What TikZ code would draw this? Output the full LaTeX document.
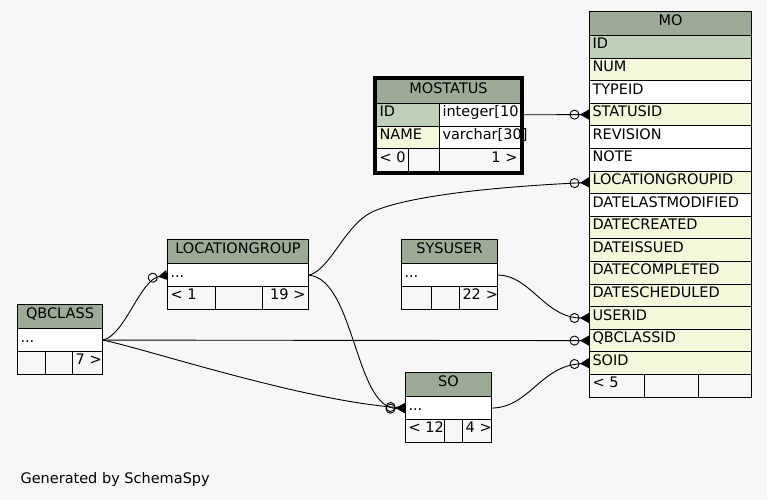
\documentclass[tikz,border=0pt]{standalone}
\usepackage{fontspec}
\setmainfont{DejaVu Sans}
\usetikzlibrary{arrows.meta,fit}

\definecolor{bgcol}{HTML}{F7F7F7}
\definecolor{hdrcol}{HTML}{9CAA96}
\definecolor{pkcol}{HTML}{BED1B8}
\definecolor{fkcol}{HTML}{F4F7DA}

\begin{document}
\begin{tikzpicture}[x=1pt,y=-1pt,font=\fontsize{14.5pt}{16pt}\selectfont,
    cell/.style={draw,line width=1pt,anchor=north west,inner xsep=3pt,inner ysep=0pt,
      text height=10pt,text depth=5.8pt,minimum height=22.6pt,align=left,fill=white},
    hdr/.style={cell,fill=hdrcol,align=center,minimum height=24pt},
    pk/.style={cell,fill=pkcol},
    fk/.style={cell,fill=fkcol},
    col/.style={cell},
    foot/.style={cell,fill=bgcol},
    footr/.style={foot,align=right},
    rel/.style={line width=0.9pt,-{Circle[open,length=10pt,width=10pt,sep=0.5pt]Triangle[reversed,length=9pt,width=10pt]}}]
    \fill[bgcol] (0,0) rectangle (767,500);

    % MO
    \node[hdr,text width=156pt] (mo-hdr) at (589,11) {MO};
    \foreach \nm/\txt/\sty [count=\i from 0] in {id/ID/pk, num/NUM/fk, typeid/TYPEID/col,
        statusid/STATUSID/fk, revision/REVISION/col, note/NOTE/col, locgrp/LOCATIONGROUPID/fk,
        modified/DATELASTMODIFIED/col, created/DATECREATED/fk, issued/DATEISSUED/fk,
        completed/DATECOMPLETED/fk, scheduled/DATESCHEDULED/fk, userid/USERID/fk,
        qbclassid/QBCLASSID/fk, soid/SOID/fk}
      \node[\sty,text width=156pt] (mo-\nm) at (589,{35+22.6*\i}) {\txt};
    \node[foot,text width=49pt] (mo-f1) at (589,374) {<~5};
    \node[foot,text width=48pt] (mo-f2) at (644,374) {};
    \node[foot,text width=47pt] (mo-f3) at (698,374) {};

    % MOSTATUS
    \node[hdr,text width=138pt] (ms-hdr) at (376,79) {MOSTATUS};
    \node[pk,text width=57pt] (ms-id) at (376,103) {ID};
    \node[col,text width=75pt] (ms-idtype) at (439,103) {integer[10};
    \node[fk,text width=57pt] (ms-name) at (376,125.6) {NAME};
    \node[col,text width=75pt] (ms-nametype) at (439,125.6) {varchar[30]};
    \node[foot,text width=26pt] (ms-f1) at (376,148.2) {<~0};
    \node[foot,text width=25pt] (ms-f2) at (408,148.2) {};
    \node[footr,text width=75pt] (ms-f3) at (439,148.2) {1~>};
    \node[fit=(ms-hdr)(ms-f3),draw,line width=3pt,inner sep=1.5pt] (mostatus) {};

    % LOCATIONGROUP
    \node[hdr,text width=135pt] (lg-hdr) at (167,239.3) {LOCATIONGROUP};
    \node[col,text width=135pt] (lg-row) at (167,263.3) {...};
    \node[foot,text width=42pt] (lg-f1) at (167,285.9) {<~1};
    \node[foot,text width=41pt] (lg-f2) at (215,285.9) {};
    \node[footr,text width=40pt] (lg-f3) at (262,285.9) {19~>};

    % SYSUSER
    \node[hdr,text width=90pt] (sys-hdr) at (401,239.3) {SYSUSER};
    \node[col,text width=90pt] (sys-row) at (401,263.3) {...};
    \node[foot,text width=24pt] (sys-f1) at (401,285.9) {};
    \node[foot,text width=22pt] (sys-f2) at (431,285.9) {};
    \node[footr,text width=32pt] (sys-f3) at (459,285.9) {22~>};

    % QBCLASS
    \node[hdr,text width=79pt] (qb-hdr) at (17,304.3) {QBCLASS};
    \node[col,text width=79pt] (qb-row) at (17,328.3) {...};
    \node[foot,text width=22pt] (qb-f1) at (17,350.9) {};
    \node[foot,text width=21pt] (qb-f2) at (45,350.9) {};
    \node[footr,text width=24pt] (qb-f3) at (72,350.9) {7~>};

    % SO
    \node[hdr,text width=80pt] (so-hdr) at (405,372.3) {SO};
    \node[col,text width=80pt] (so-row) at (405,396.3) {...};
    \node[foot,text width=33pt] (so-f1) at (405,418.9) {<~12};
    \node[foot,text width=12pt] (so-f2) at (444,418.9) {};
    \node[footr,text width=23pt] (so-f3) at (462,418.9) {4~>};

    \node[anchor=base west] (credit) at (17,483) {Generated by SchemaSpy};

    % relations
    \draw[rel] (mostatus.east |- ms-idtype.east) -- (mo-statusid.west);
    \draw[rel] (lg-row.east) .. controls (330,270) and (345,225) .. (372,212)
      .. controls (400,199) and (470,188) .. (mo-locgrp.west);
    \draw[rel] (lg-row.east) .. controls (355,280) and (355,410) .. (so-row.west);
    \draw[rel] (qb-row.east) .. controls (125,335) and (140,280) .. (lg-row.west);
    \draw[rel] (qb-row.east) -- (mo-qbclassid.west);
    \draw[rel] (qb-row.east) .. controls (150,350) and (300,400) .. (so-row.west);
    \draw[rel] (sys-row.east) .. controls (530,275) and (545,318) .. (mo-userid.west);
    \draw[rel] (so-row.east) .. controls (530,407) and (540,366) .. (mo-soid.west);
\end{tikzpicture}
\end{document}
